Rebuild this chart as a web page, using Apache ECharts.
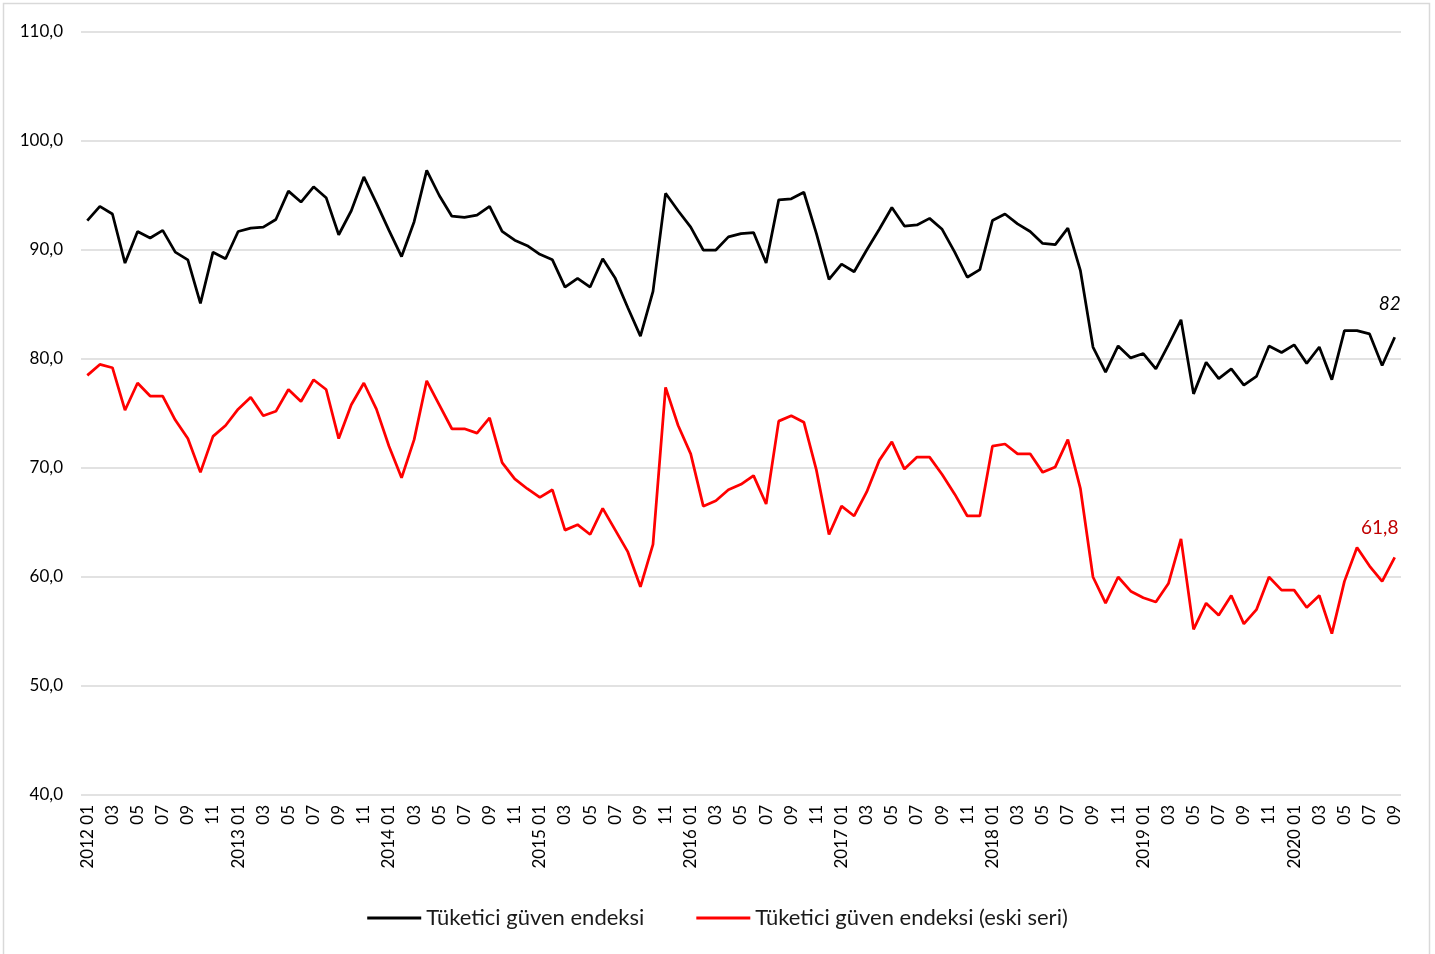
<!DOCTYPE html>
<html>
<head>
<meta charset="utf-8">
<script src="https://cdn.jsdelivr.net/npm/echarts@6/dist/echarts.min.js"></script>
<style>
html,body{margin:0;padding:0;background:#fff;}
#chart{width:1435px;height:954px;}
</style>
</head>
<body>
<div id="chart"></div>
<script>
const categories = [
"2012 01","2012 02","2012 03","2012 04","2012 05","2012 06","2012 07","2012 08","2012 09","2012 10","2012 11","2012 12",
"2013 01","2013 02","2013 03","2013 04","2013 05","2013 06","2013 07","2013 08","2013 09","2013 10","2013 11","2013 12",
"2014 01","2014 02","2014 03","2014 04","2014 05","2014 06","2014 07","2014 08","2014 09","2014 10","2014 11","2014 12",
"2015 01","2015 02","2015 03","2015 04","2015 05","2015 06","2015 07","2015 08","2015 09","2015 10","2015 11","2015 12",
"2016 01","2016 02","2016 03","2016 04","2016 05","2016 06","2016 07","2016 08","2016 09","2016 10","2016 11","2016 12",
"2017 01","2017 02","2017 03","2017 04","2017 05","2017 06","2017 07","2017 08","2017 09","2017 10","2017 11","2017 12",
"2018 01","2018 02","2018 03","2018 04","2018 05","2018 06","2018 07","2018 08","2018 09","2018 10","2018 11","2018 12",
"2019 01","2019 02","2019 03","2019 04","2019 05","2019 06","2019 07","2019 08","2019 09","2019 10","2019 11","2019 12",
"2020 01","2020 02","2020 03","2020 04","2020 05","2020 06","2020 07","2020 08","2020 09"
];

const seriesNames = ["Tüketici güven endeksi", "Tüketici güven endeksi (eski seri)"];

const guvenEndeksi = [
92.7,94.0,93.3,88.8,91.7,91.1,91.8,89.8,89.1,85.1,89.8,89.2,
91.7,92.0,92.1,92.8,95.4,94.4,95.8,94.8,91.4,93.6,96.7,94.3,
91.8,89.4,92.6,97.3,95.0,93.1,93.0,93.2,94.0,91.7,90.9,90.4,
89.6,89.1,86.6,87.4,86.6,89.2,87.4,84.7,82.1,86.2,95.2,93.6,
92.1,90.0,90.0,91.2,91.5,91.6,88.8,94.6,94.7,95.3,91.5,87.3,
88.7,88.0,90.0,91.9,93.9,92.2,92.3,92.9,91.9,89.8,87.5,88.2,
92.7,93.3,92.4,91.7,90.6,90.5,92.0,88.1,81.1,78.8,81.2,80.1,
80.5,79.1,81.3,83.6,76.8,79.7,78.2,79.1,77.6,78.4,81.2,80.6,
81.3,79.6,81.1,78.1,82.6,82.6,82.3,79.4,82
];

const guvenEndeksiEski = [
78.5,79.5,79.2,75.3,77.8,76.6,76.6,74.4,72.7,69.6,72.9,73.9,
75.4,76.5,74.8,75.2,77.2,76.1,78.1,77.2,72.7,75.8,77.8,75.4,
72.0,69.1,72.6,78.0,75.8,73.6,73.6,73.2,74.6,70.5,69.0,68.1,
67.3,68.0,64.3,64.8,63.9,66.3,64.3,62.3,59.1,63.0,77.4,73.9,
71.3,66.5,67.0,68.0,68.5,69.3,66.7,74.3,74.8,74.2,69.8,63.9,
66.5,65.6,67.8,70.7,72.4,69.9,71.0,71.0,69.4,67.6,65.6,65.6,
72.0,72.2,71.3,71.3,69.6,70.1,72.6,68.1,60.0,57.6,60.0,58.7,
58.1,57.7,59.4,63.5,55.2,57.6,56.5,58.3,55.7,57.0,60.0,58.8,
58.8,57.2,58.3,54.8,59.6,62.7,61.0,59.6,61.8
];

const yTicks = [40, 50, 60, 70, 80, 90, 100, 110];

const fmtComma = v => String(v).replace('.', ',');

function withEndLabel(arr, labelOpts) {
  return arr.map((v, i) => i === arr.length - 1 ? { value: v, label: labelOpts } : v);
}

const chart = echarts.init(document.getElementById('chart'), null, { renderer: 'canvas' });

const FONT = 'Lato, "Open Sans", sans-serif';

chart.setOption({
  animation: false,
  backgroundColor: '#ffffff',
  graphic: [{
    type: 'rect',
    silent: true,
    shape: { x: 3.5, y: 3.5, width: 1426, height: 960 },
    style: { fill: 'none', stroke: '#d9d9d9', lineWidth: 1.5 }
  }],
  grid: { left: 81, right: 34, top: 32, bottom: 159, containLabel: false },
  legend: {
    left: 'center',
    top: 902,
    icon: 'rect',
    itemWidth: 54,
    itemHeight: 3,
    itemGap: 52,
    textStyle: { fontFamily: FONT, fontSize: 22, color: '#1a1a1a' },
    data: seriesNames
  },
  xAxis: {
    type: 'category',
    data: categories,
    boundaryGap: true,
    axisLine: { show: false },
    axisTick: { show: false },
    axisLabel: {
      interval: 1,
      rotate: 90,
      margin: 10,
      fontFamily: FONT,
      fontSize: 17,
      color: '#000',
      formatter: function (val) {
        const parts = val.split(' ');
        return parts[1] === '01' ? val : parts[1];
      }
    },
    splitLine: { show: false }
  },
  yAxis: {
    type: 'value',
    min: yTicks[0],
    max: yTicks[yTicks.length - 1],
    interval: 10,
    axisLine: { show: false },
    axisTick: { show: false },
    axisLabel: {
      margin: 18,
      fontFamily: FONT,
      fontSize: 17,
      color: '#000',
      formatter: v => v.toFixed(1).replace('.', ',')
    },
    splitLine: { lineStyle: { color: '#d9d9d9', width: 1.5 } }
  },
  series: [
    {
      name: seriesNames[0],
      type: 'line',
      symbol: 'circle',
      symbolSize: 0,
      showSymbol: true,
      color: '#000000',
      lineStyle: { color: '#000000', width: 2.75 },
      data: withEndLabel(guvenEndeksi, {
        show: true, position: 'top', distance: 24, offset: [-5, 0],
        fontFamily: FONT, fontSize: 19, fontStyle: 'italic', color: '#000',
        formatter: p => fmtComma(p.value)
      }),
      z: 3
    },
    {
      name: seriesNames[1],
      type: 'line',
      symbol: 'circle',
      symbolSize: 0,
      showSymbol: true,
      color: '#ff0000',
      lineStyle: { color: '#ff0000', width: 2.75 },
      data: withEndLabel(guvenEndeksiEski, {
        show: true, position: 'top', distance: 20, offset: [-15, 0],
        fontFamily: FONT, fontSize: 19, color: '#c00000',
        formatter: p => fmtComma(p.value)
      }),
      z: 2
    }
  ]
});
</script>
</body>
</html>
